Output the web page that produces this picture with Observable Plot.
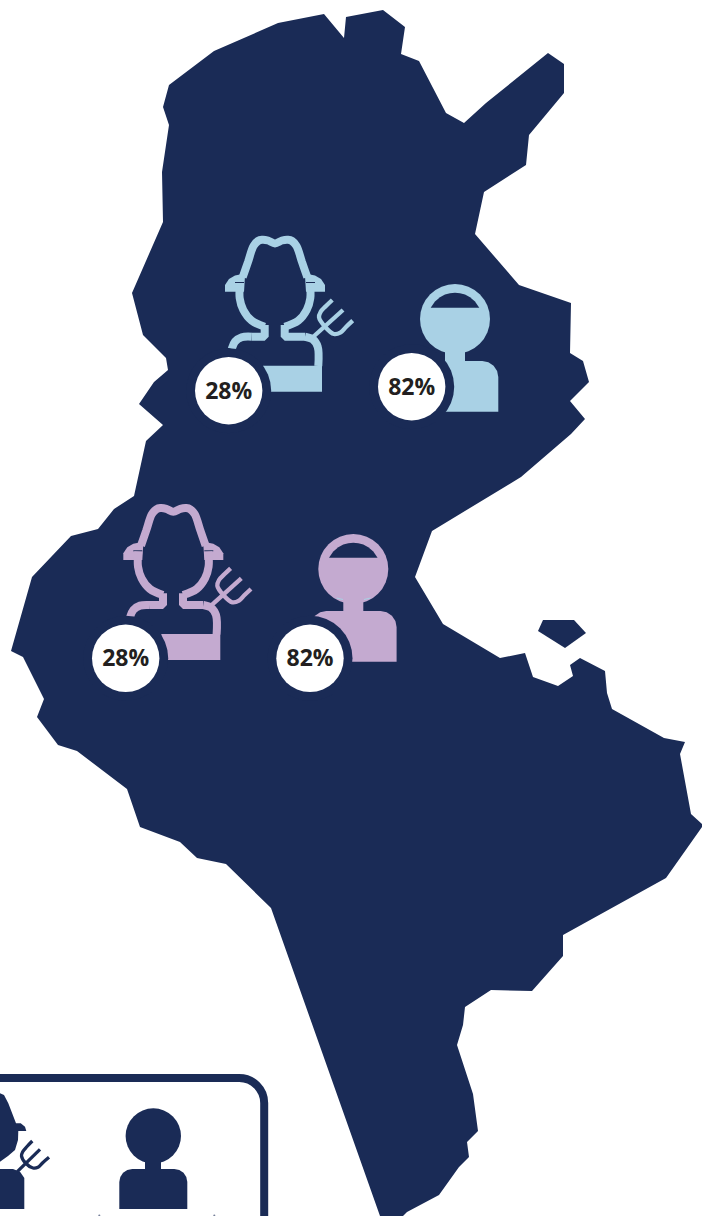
<!DOCTYPE html>
<html>
<head>
<meta charset="utf-8">
<style>html,body{margin:0;padding:0;background:#fff}svg{display:block}</style>
<script src="https://cdn.jsdelivr.net/npm/d3@7"></script>
<script src="https://cdn.jsdelivr.net/npm/@observablehq/plot@0.6"></script>
</head>
<body>
<script>
const navy = "#1a2b56", blue = "#a9d1e5", purple = "#c4aad0", ink = "#231f20";

const mapOutline = [[324,14],[344,38],[346,17],[383,10],[405,27],[401,54],[419,61],[446,113],[464,123],[486,103],[548,53],[564,64],[564,93],[529,135],[526,165],[484,192],[475,234],[519,285],[571,303],[570,353],[583,361],[589,382],[570,401],[585,419],[571,434],[521,477],[432,531],[415,577],[443,624],[500,658],[525,653],[533,677],[558,686],[573,676],[570,665],[580,658],[605,671],[607,693],[612,709],[664,738],[685,742],[680,754],[691,814],[702,824],[702,827],[666,878],[563,935],[563,956],[532,991],[491,990],[465,1007],[463,1025],[457,1045],[473,1094],[478,1131],[467,1142],[469,1157],[459,1167],[439,1195],[407,1212],[403,1216],[380,1216],[271,908],[226,864],[197,858],[180,842],[140,827],[127,789],[77,751],[58,745],[37,717],[44,699],[23,657],[11,651],[32,577],[71,536],[98,529],[114,509],[134,496],[146,441],[163,425],[139,404],[154,382],[168,370],[166,358],[143,335],[132,293],[163,222],[162,172],[169,125],[163,107],[169,85],[214,51],[278,23]];
const islandOutline = [[543,620],[574,620],[586,633],[565,648],[538,631]];

// Farmer icon, first instance; the second is the same outline moved by farmerShift
const farmerCurves = [
  [[242.7,277.3],[248,262],[253.5,246],[258,241],[262,239.8],[268,240.5],[275,243.5],[282,240.5],[288,239.8],[292,241],[296.5,246],[302,262],[307.3,277.3]],
  [[240,283.3],[239.7,298.3],[243.3,310],[251.7,320.7],[264.7,326.7]],
  [[251.7,336.7],[241.7,337.3],[235,341.7],[231.7,349]],
  [[310,283.3],[310.3,298.3],[306.7,310],[298.3,320.7],[284.7,326.7]],
  [[305,336.7],[312.7,339.3],[317.7,346.7],[318.3,366]]
];
const farmerElbows = [
  [[264.7,325],[264.7,336.7],[251.7,336.7]],
  [[284.7,325],[284.7,336.7],[305,336.7]]
];
const farmerFills = [
  [[263,365.7],[322,365.7],[322,391.7],[263,391.7]],
  [[225,291.7],[225,285],[229,279],[235,275.5],[240,274.5],[245,276],[244,291.7]],
  [[325,291.7],[325,285],[321,279],[315,275.5],[310,274.5],[305,276],[306,291.7]]
];
const farmerBrimLines = [[[235,282.5],[244,282.5]],[[306,282.5],[315,282.5]]];
const forkStraight = [[[313,337],[343,310]]];
const forkCurves = [
  [[332.3,300],[326,306],[320.7,311.7],[319,317.3],[325,326.7],[334,334],[340.7,332.3],[346,327],[352.7,320.7]]
];
const farmerShift = [-101.7, 268.3];

// Person icon, first instance; the second is moved by personShift
const personHead = [455, 319];
const personCap = [[430.7,307.7],[435,301.5],[440,297.2],[445,294.6],[450,293.2],[455,292.7],[460,293.2],[465,294.6],[470,297.2],[475,301.5],[479.3,307.7]];
const personNeck = [[445,345],[465,345],[465,365],[445,365]];
const personBody = [[412,411.7],[412,377],[413.2,370.9],[416.7,365.7],[421.9,362.2],[428,361],[482.3,361],[488.4,362.2],[493.6,365.7],[497.1,370.9],[498.3,377],[498.3,411.7]];
const personShift = [-101.7, 250];
const neckSlivers = [[[336.5,598],[343,599.5]],[[364,599.5],[370.5,598]]];

const badgeX = [228.7, 411.7, 125.7, 310];
const badgeY = [390.7, 386.7, 658.3, 658.3];
const badgeLabels = ["28%", "82%", "28%", "82%"];

// Legend box icons
const legendFarmerFills = [
  [[-5,1093.3],[0,1093.3],[4,1095],[8.3,1103.3],[16,1123.3],[20.7,1123.3],[25,1126.7],[26.3,1131],[18.3,1131],[18,1140],[15,1150],[8,1156],[0,1161.7],[-5,1162]],
  [[-5,1169],[13,1169],[20,1171.7],[24.3,1178],[24.3,1209],[-5,1209]]
];
const legendForkStraight = [[[17.3,1171.7],[40,1149.3]]];
const legendForkCurves = [
  [[32.3,1141],[27,1146.5],[22.7,1151.7],[21.5,1156],[25.5,1163],[33,1168],[38,1167.3],[43,1162.5],[49,1157.3]]
];
const legendPersonHead = [153.3, 1136];
const legendPersonNeck = [[145,1160],[161,1160],[161,1172],[145,1172]];
const legendPersonBody = [[119.3,1209],[119.3,1182],[120.3,1177],[123.1,1172.8],[127.3,1170],[132.3,1169],[174.3,1169],[179.3,1170],[183.5,1172.8],[186.3,1177],[187.3,1182],[187.3,1209]];
const legendBox = {x1: -60, x2: 264.7, y1: 1078.5, y2: 1300};
const legendLabelTops = [[99.3,1215.5],[214.3,1215.5]];

const shift = (pts, s) => pts.map(([a, b]) => [a + s[0], b + s[1]]);
const X = d => d[0], Y = d => d[1];
const poly = (pts, fill) => Plot.line(pts, {x: X, y: Y, fill, stroke: "none"});
const stroke = (pts, color, strokeWidth, curve = "linear") =>
  Plot.line(pts, {x: X, y: Y, stroke: color, strokeWidth, curve, strokeLinecap: "butt", strokeLinejoin: "miter", fill: "none"});

function farmer(color, s) {
  return [
    ...farmerFills.map(p => poly(shift(p, s), color)),
    ...farmerBrimLines.map(p => stroke(shift(p, s), navy, 1)),
    ...farmerCurves.map(p => stroke(shift(p, s), color, 8, "catmull-rom")),
    ...farmerElbows.map(p => stroke(shift(p, s), color, 8)),
    ...forkStraight.map(p => stroke(shift(p, s), color, 4.3)),
    ...forkCurves.map(p => stroke(shift(p, s), color, 4.3, "catmull-rom"))
  ];
}
function person(color, s) {
  return [
    Plot.dot([[personHead[0] + s[0], personHead[1] + s[1]]], {x: X, y: Y, r: 35, fill: color, stroke: "none"}),
    poly(shift(personCap, s), navy),
    poly(shift(personNeck, s), color),
    poly(shift(personBody, s), color)
  ];
}

const badges = badgeX.map((x, i) => ({x, y: badgeY[i], label: badgeLabels[i]}));

const chart = Plot.plot({
  width: 702,
  height: 1216,
  margin: 0,
  style: {overflow: "hidden", background: "#fff"},
  x: {domain: [0.5, 702.5], axis: null},
  y: {domain: [1216.5, 0.5], axis: null},
  marks: [
    poly(mapOutline, navy),
    poly(islandOutline, navy),
    ...farmer(blue, [0, 0]),
    ...person(blue, [0, 0]),
    ...farmer(purple, farmerShift),
    ...person(purple, personShift),
    ...neckSlivers.map(p => stroke(p, blue, 1)),
    Plot.dot(badges, {x: "x", y: "y", r: 42.5, fill: navy, stroke: "none"}),
    Plot.dot(badges, {x: "x", y: "y", r: 33.7, fill: "#fff", stroke: "none"}),
    Plot.text(badges, {x: "x", y: "y", dy: 0.8, text: "label", fontSize: 23, fontWeight: 700, fontFamily: "Open Sans", fill: ink}),
    Plot.rect([legendBox], {x1: "x1", x2: "x2", y1: "y1", y2: "y2", fill: "none", stroke: navy, strokeWidth: 8, rx: 25}),
    ...legendFarmerFills.map(p => poly(p, navy)),
    ...legendForkStraight.map(p => stroke(p, navy, 3.3)),
    ...legendForkCurves.map(p => stroke(p, navy, 3.3, "catmull-rom")),
    Plot.dot([legendPersonHead], {x: X, y: Y, r: 27.7, fill: navy, stroke: "none"}),
    poly(legendPersonNeck, navy),
    poly(legendPersonBody, navy),
    Plot.dot(legendLabelTops, {x: X, y: Y, r: 1, fill: navy, fillOpacity: 0.6, stroke: "none"})
  ]
});
document.body.appendChild(chart);
</script>
</body>
</html>
